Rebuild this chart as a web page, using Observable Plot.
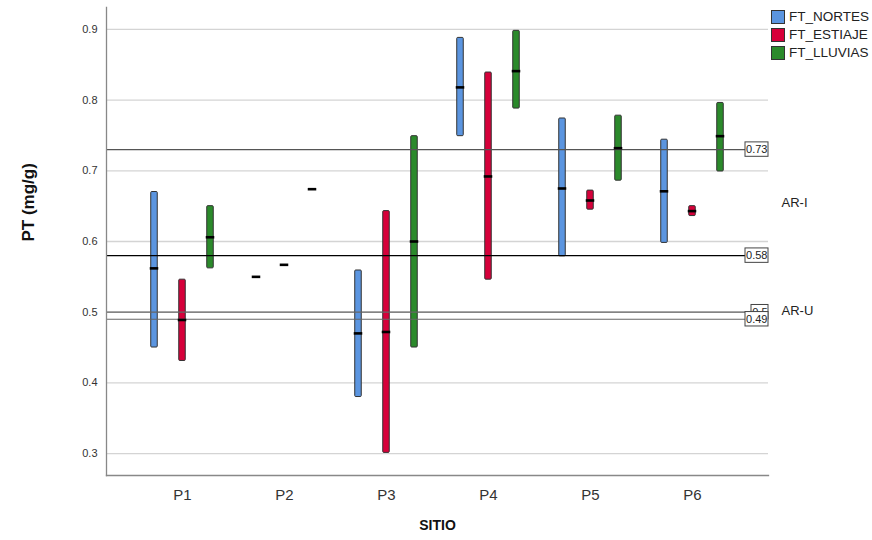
<!DOCTYPE html>
<html><head><meta charset="utf-8">
<script src="https://cdn.jsdelivr.net/npm/d3@7"></script>
<script src="https://cdn.jsdelivr.net/npm/@observablehq/plot@0.6"></script>
<style>
body{margin:0;background:#fff;font-family:"Liberation Sans",Arial,sans-serif}
#wrap{position:relative;width:872px;height:540px}
#legend{position:absolute;left:771px;top:8px;font-size:13.5px;color:#222;line-height:18px}
#legend .it{display:flex;align-items:center;height:18px}
#legend .sw{width:12px;height:12px;border:1px solid #333;margin-right:4px;box-sizing:content-box}
</style></head><body>
<div id="wrap"><div id="chart"></div><div id="legend"></div></div>
<script>
const sites = ["P1","P2","P3","P4","P5","P6"];
const series = ["FT_NORTES","FT_ESTIAJE","FT_LLUVIAS"];
const colors = ["#5b95e0","#d6003a","#2b8a2b"];
const nortesLow  = [0.45, 0.55, 0.38, 0.749, 0.579, 0.598];
const nortesHigh = [0.67, 0.55, 0.559, 0.888, 0.774, 0.744];
const nortesMed  = [0.562, 0.55, 0.47, 0.818, 0.675, 0.671];
const estiajeLow  = [0.431, 0.567, 0.301, 0.546, 0.645, 0.636];
const estiajeHigh = [0.546, 0.567, 0.643, 0.839, 0.672, 0.650];
const estiajeMed  = [0.489, 0.567, 0.472, 0.692, 0.658, 0.643];
const lluviasLow  = [0.562, 0.674, 0.45, 0.788, 0.686, 0.699];
const lluviasHigh = [0.65, 0.674, 0.749, 0.898, 0.778, 0.796];
const lluviasMed  = [0.606, 0.674, 0.60, 0.841, 0.732, 0.749];
const refValues = [0.73, 0.58, 0.5, 0.49];
const refLabels = ["0.73", "0.58", "0.5", "0.49"];
const zoneLabels = ["AR-I", "AR-U"];
const zoneY = [0.655, 0.502];
const yTicks = [0.3, 0.4, 0.5, 0.6, 0.7, 0.8, 0.9];

const lows = [nortesLow, estiajeLow, lluviasLow];
const highs = [nortesHigh, estiajeHigh, lluviasHigh];
const meds = [nortesMed, estiajeMed, lluviasMed];
const offsets = [-28, 0, 28];

const W = 872, H = 540, mL = 106, mR = 104, mT = 7, mB = 65;
const plotW = W - mL - mR;
const padOuter = 0.23;
const step = plotW / (sites.length + 2 * padOuter);
const barInset = (step - 7) / 2;
const medInset = (step - 9) / 2;

const marks = [
  Plot.gridY(yTicks, {stroke: "#d4d4d4", strokeOpacity: 1, strokeWidth: 1.3})
];
series.forEach((s, i) => {
  const rows = sites.map((site, j) => ({site, lo: lows[i][j], hi: highs[i][j], med: meds[i][j]}));
  marks.push(Plot.barY(rows, {x: "site", y1: "lo", y2: "hi", dx: offsets[i],
    insetLeft: barInset, insetRight: barInset, fill: colors[i], stroke: "#333", strokeWidth: 1, rx: 1}));
});
const refStroke = ["#555", "#000", "#666", "#666"];
refValues.forEach((v, k) => {
  marks.push(Plot.ruleY([v], {stroke: refStroke[k], strokeWidth: 1.2}));
});
series.forEach((s, i) => {
  const rows = sites.map((site, j) => ({site, med: meds[i][j]}));
  marks.push(Plot.tickY(rows, {x: "site", y: "med", dx: offsets[i],
    insetLeft: medInset, insetRight: medInset, stroke: "#000", strokeWidth: 2.6}));
});
refValues.forEach((v, k) => {
  const bw = refLabels[k].length > 3 ? 23 : 17;
  marks.push(Plot.rect([v], {y1: d => d - 0.0102, y2: d => d + 0.0102,
    insetLeft: plotW - bw, fill: "#fff", stroke: "#444", strokeWidth: 1}));
  marks.push(Plot.text([refLabels[k]], {y: () => v, frameAnchor: "right", textAnchor: "end", dx: -1,
    fontSize: 11, fill: "#222"}));
});
marks.push(Plot.text(zoneLabels, {y: (d, i) => zoneY[i], frameAnchor: "right", textAnchor: "start", dx: 13,
  fontSize: 13, fill: "#222"}));
marks.push(Plot.axisY({ticks: yTicks, tickFormat: d => d.toFixed(1), tickSize: 0, tickPadding: 9, fontSize: 11, label: null, fill: "#333"}));
marks.push(Plot.axisX({tickSize: 0, tickPadding: 14, fontSize: 15, label: null, fill: "#333"}));
marks.push(Plot.frame({anchor: "left", stroke: "#888", strokeWidth: 1.3}));
marks.push(Plot.frame({anchor: "bottom", stroke: "#888", strokeWidth: 1.3}));
marks.push(Plot.text(["PT (mg/g)"], {frameAnchor: "left", dx: -78, rotate: -90, fontSize: 17, fontWeight: "bold", fill: "#111"}));
marks.push(Plot.text(["SITIO"], {frameAnchor: "bottom", dy: 54, fontSize: 14, fontWeight: "bold", fill: "#111"}));

const chart = Plot.plot({
  width: W, height: H, marginLeft: mL, marginRight: mR, marginTop: mT, marginBottom: mB,
  style: {fontFamily: "Liberation Sans, Arial, sans-serif", background: "#fff", overflow: "visible"},
  x: {type: "band", domain: sites, paddingInner: 0, paddingOuter: padOuter, axis: null},
  y: {domain: [0.269, 0.931], axis: null},
  marks
});
document.getElementById("chart").appendChild(chart);

const lg = document.getElementById("legend");
series.forEach((s, i) => {
  const it = document.createElement("div"); it.className = "it";
  const sw = document.createElement("div"); sw.className = "sw"; sw.style.background = colors[i];
  const tx = document.createElement("span"); tx.textContent = s;
  it.appendChild(sw); it.appendChild(tx); lg.appendChild(it);
});
</script></body></html>
